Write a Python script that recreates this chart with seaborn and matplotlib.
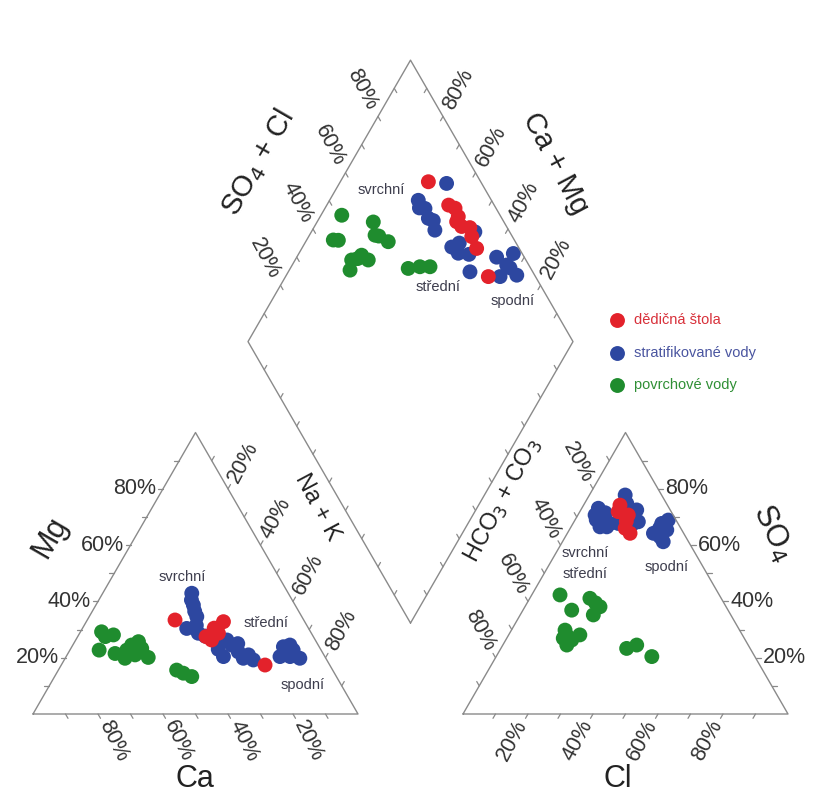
"""
Piperuv diagram - dedicna stola, stratifikovane a povrchove vody
"""

import numpy as np
import pandas as pd
import matplotlib.pyplot as plt
import seaborn as sns


### Data (procenta)

skupiny = ['povrchové vody', 'stratifikované vody', 'dědičná štola']
barvy = {'dědičná štola': '#e3222b',
         'stratifikované vody': '#2d47a0',
         'povrchové vody': '#1f8c2e'}
barvy_textu = {'dědičná štola': '#d8303a',
               'stratifikované vody': '#4a55a0',
               'povrchové vody': '#2f8f35'}

# kationty: Mg %, Na+K %
kat_povrch_mg = [29.2, 28.1, 22.7, 22.7, 24.5, 25.7, 23.3, 20.1, 19.8, 21.0, 15.6, 14.5, 13.3,
                 27.5, 21.5]
kat_povrch_nak = [6.5, 10.7, 9.0, 17.5, 18.1, 19.6, 21.8, 25.4, 18.4, 20.9, 36.4, 39.0, 42.2,
                  8.5, 14.5]
kat_strat_mg = [42.9, 38.7, 34.6, 30.4, 28.7, 27.7, 26.3, 26.3, 24.5, 20.4, 22.1, 21.0, 19.2, 19.8,
                23.9, 24.5, 20.4, 20.4, 19.8, 22.7, 40.5, 36.5, 31.5, 25.0, 23.0]
kat_strat_nak = [27.4, 30.0, 33.1, 32.1, 36.5, 39.1, 42.9, 46.5, 48.9, 48.4, 52.1, 55.8, 58.2, 54.8,
                 65.1, 66.8, 65.8, 68.9, 72.2, 68.7, 28.5, 31.5, 34.5, 50.5, 45.5]
kat_stola_mg = [33.4, 32.8, 26.3, 28.7, 17.4, 30.5, 27.5]
kat_stola_nak = [27.0, 42.2, 41.8, 42.7, 62.7, 40.5, 39.5]

# anionty: SO4 %, Cl %
an_povrch_so4 = [42.3, 36.9, 41.1, 38.1, 35.2, 29.8, 28.1, 24.5, 26.9, 26.3, 23.3, 24.5, 20.4,
                 27.5, 39.5]
an_povrch_cl = [8.7, 15.0, 18.5, 23.1, 22.5, 16.5, 21.9, 19.7, 17.4, 20.3, 38.7, 41.2, 47.9,
                18.5, 21.0]
an_strat_so4 = [73.1, 70.7, 69.5, 67.7, 66.5, 77.8, 74.8, 72.5, 68.3, 67.1, 67.7, 67.7, 65.4, 63.0,
                64.2, 68.9, 61.2, 71.5, 69.0, 66.0, 66.5]
an_strat_cl = [5.1, 5.3, 8.9, 11.4, 8.9, 11.0, 13.0, 17.2, 19.8, 18.3, 13.9, 27.3, 30.0, 29.1,
               26.5, 28.7, 31.0, 8.0, 6.5, 27.5, 11.0]
an_stola_so4 = [74.2, 70.7, 66.0, 64.2, 71.9, 68.5]
an_stola_cl = [11.2, 15.5, 16.9, 19.3, 11.8, 16.0]

# kosoctverec: Ca+Mg %, SO4+Cl %
dia_povrch_camg = [93.6, 90.2, 82.7, 79.8, 74.6, 82.6, 80.4, 77.5, 81.3, 63.7, 60.4, 57.3, 91.8,
                   78.5, 81.0]
dia_povrch_so4cl = [51.3, 45.8, 59.8, 58.0, 60.9, 46.4, 50.3, 51.5, 44.1, 62.3, 66.2, 69.3, 44.3,
                    59.0, 48.5]
dia_strat_camg = [67.0, 72.7, 69.2, 66.4, 62.3, 54.1, 51.0, 44.1, 49.7, 34.0, 34.0, 34.0, 29.1, 32.5,
                  71.0, 64.5, 52.5, 47.5, 38.5]
dia_strat_so4cl = [89.2, 77.5, 78.1, 77.4, 77.3, 79.5, 80.4, 80.7, 89.3, 89.1, 93.2, 97.3, 94.5, 93.7,
                   76.5, 78.5, 82.5, 83.5, 91.5]
dia_stola_camg = [72.9, 60.0, 57.5, 54.7, 49.8, 46.2, 37.6, 57.1, 62.5, 52.0]
dia_stola_so4cl = [83.9, 87.4, 86.9, 86.2, 87.5, 86.9, 85.5, 85.5, 86.0, 88.5]

ticks_pct = [20, 40, 60, 80]


### Geometrie (pixely obrazku)

S = 325.0
H = S * np.sqrt(3) / 2
X0L, X0R, Y0 = 33.0, 463.0, 714.0
GAP = X0R - X0L - S
XB, YB = X0L + S + GAP / 2, Y0 - GAP * np.sqrt(3) / 2

def kation_xy(mg, nak):
    mg, nak = np.broadcast_arrays(np.asarray(mg, float), np.asarray(nak, float))
    return X0L + (nak + mg / 2) * S / 100, Y0 - mg * H / 100

def anion_xy(so4, cl):
    so4, cl = np.broadcast_arrays(np.asarray(so4, float), np.asarray(cl, float))
    return X0R + (cl + so4 / 2) * S / 100, Y0 - so4 * H / 100

def diamant_xy(camg, so4cl):
    camg, so4cl = np.broadcast_arrays(np.asarray(camg, float), np.asarray(so4cl, float))
    return XB + (so4cl - camg) * S / 200, YB - (so4cl + camg) * H / 100


sns.set_style('white')
plt.rcParams['font.family'] = ['Liberation Sans', 'DejaVu Sans']

fig = plt.figure(figsize=(8.13, 7.95), dpi=100)
ax = fig.add_axes([0, 0, 1, 1])
ax.set_xlim(0, 813)
ax.set_ylim(795, 0)
ax.set_axis_off()

LC = '#8a8a8a'
TC = '#333333'

# obrysy
for x0 in (X0L, X0R):
    ax.plot([x0, x0 + S, x0 + S / 2, x0], [Y0, Y0, Y0 - H, Y0], color=LC, lw=1.0)
ax.plot([XB, XB + S / 2, XB, XB - S / 2, XB], [YB, YB - H, YB - 2 * H, YB - H, YB], color=LC, lw=1.0)

r3 = np.sqrt(3) / 2
f10 = np.arange(10, 100, 10)

def osa(px, py, d, tick_dir, values, rot, ha='center', dist=31, tick=5):
    for x, y in zip(px, py):
        ax.plot([x, x + tick_dir[0] * tick], [y, y + tick_dir[1] * tick], color=LC, lw=0.9)
    for x, y, v in zip(px[1::2], py[1::2], values):
        ax.text(x + d[0] * dist, y + d[1] * dist, f'{v}%', rotation=rot, ha=ha, va='center',
                rotation_mode='anchor' if ha != 'center' else 'default',
                fontsize=15.5, color=TC)

# kationty
px, py = kation_xy(f10, 0)
osa(px, py, (-1, 0), (-1, 0), ticks_pct, 0, ha='right', dist=7)
px, py = kation_xy(0, 100 - f10)
osa(px, py, (0.5, r3), (0.5, r3), ticks_pct, -64)
px, py = kation_xy(100 - f10, f10)
osa(px, py, (0.5, -r3), (0.5, -r3), ticks_pct, 62)

# anionty
px, py = anion_xy(f10, 100 - f10)
osa(px, py, (1, 0), (1, 0), ticks_pct, 0, ha='left', dist=7)
px, py = anion_xy(0, f10)
osa(px, py, (-0.5, r3), (-0.5, r3), ticks_pct, 62)
px, py = anion_xy(100 - f10, 0)
osa(px, py, (-0.5, -r3), (-0.5, -r3), ticks_pct, -62)

# kosoctverec
px, py = diamant_xy(100, f10)
osa(px, py, (-0.5, -r3), (0.5, r3), ticks_pct, -62)
px, py = diamant_xy(f10, 100)
osa(px, py, (0.5, -r3), (-0.5, r3), ticks_pct, 62)
for c in f10:
    x, y = diamant_xy(c, 0)
    ax.plot([x, x + 0.5 * 5], [y, y - r3 * 5], color=LC, lw=0.9)
    x, y = diamant_xy(0, c)
    ax.plot([x, x - 0.5 * 5], [y, y - r3 * 5], color=LC, lw=0.9)

# nazvy os
TT = '#222222'
ax.text(50, 537, 'Mg', rotation=60, ha='center', va='center', fontsize=22, color=TT)
ax.text(195, 779, 'Ca', ha='center', va='center', fontsize=22, color=TT)
ax.text(317, 507, 'Na + K', rotation=-62, ha='center', va='center', fontsize=17, color=TT)
ax.text(503, 500, r'HCO$_3$ + CO$_3$', rotation=62, ha='center', va='center', fontsize=17, color=TT)
ax.text(773, 533, r'SO$_4$', rotation=-65, ha='center', va='center', fontsize=22, color=TT)
ax.text(618, 779, 'Cl', ha='center', va='center', fontsize=22, color=TT)
ax.text(258, 163, r'SO$_4$ + Cl', rotation=60, ha='center', va='center', fontsize=21, color=TT)
ax.text(555, 163, 'Ca + Mg', rotation=-62, ha='center', va='center', fontsize=21, color=TT)

# body
tabulky = []
for sk, kmg, knak, aso4, acl, dcm, dsc in [
        ('povrchové vody', kat_povrch_mg, kat_povrch_nak, an_povrch_so4, an_povrch_cl,
         dia_povrch_camg, dia_povrch_so4cl),
        ('stratifikované vody', kat_strat_mg, kat_strat_nak, an_strat_so4, an_strat_cl,
         dia_strat_camg, dia_strat_so4cl),
        ('dědičná štola', kat_stola_mg, kat_stola_nak, an_stola_so4, an_stola_cl,
         dia_stola_camg, dia_stola_so4cl)]:
    for xy in (kation_xy(kmg, knak), anion_xy(aso4, acl), diamant_xy(dcm, dsc)):
        tabulky.append(pd.DataFrame({'x': xy[0], 'y': xy[1], 'skupina': sk}))
df = pd.concat(tabulky, ignore_index=True)
df['skupina'] = pd.Categorical(df['skupina'], categories=skupiny, ordered=True)
df = df.sort_values('skupina', kind='stable')

sns.scatterplot(data=df, x='x', y='y', hue='skupina', palette=barvy, hue_order=skupiny,
                s=115, linewidth=0, alpha=1, legend=False, ax=ax)

# popisky vrstev
AC = '#3d3d4d'
for x, y, t in [(182, 577, 'svrchní'), (266, 623, 'střední'), (303, 685, 'spodní'),
                (585, 553, 'svrchní'), (585, 574, 'střední'), (667, 567, 'spodní'),
                (381, 190, 'svrchní'), (438, 287, 'střední'), (513, 301, 'spodní')]:
    ax.text(x, y, t, ha='center', va='center', fontsize=10.5, color=AC)

# legenda
for i, sk in enumerate(['dědičná štola', 'stratifikované vody', 'povrchové vody']):
    yy = 320 + i * 32.5
    ax.scatter([617], [yy], s=115, color=barvy[sk], linewidth=0)
    ax.text(634, yy, sk, ha='left', va='center', fontsize=10.5, color=barvy_textu[sk])

plt.savefig('out.png', dpi=100)
